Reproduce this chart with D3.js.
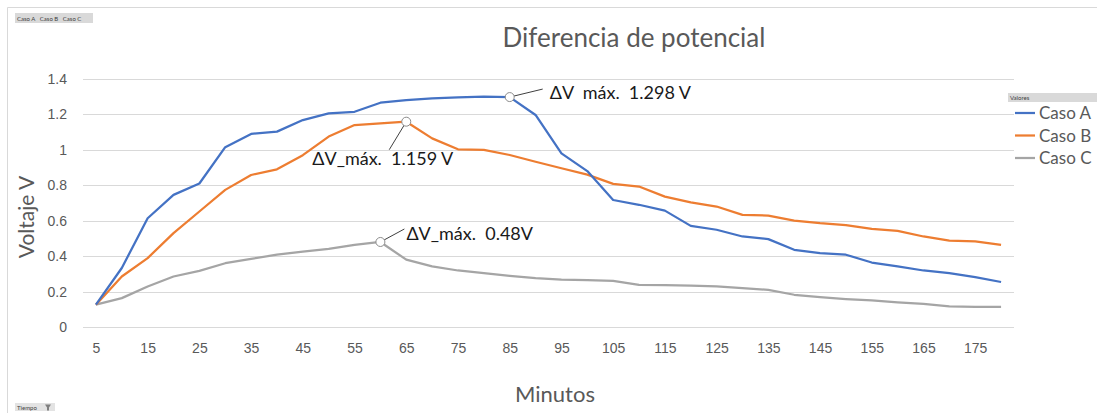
<!DOCTYPE html>
<html>
<head>
<meta charset="utf-8">
<script src="https://cdn.jsdelivr.net/npm/d3@7"></script>
<style>
	body { margin: 0; background: #fff; }
	svg { display: block; font-family: Lato, 'Open Sans', sans-serif; }
	.grid line { stroke: #d9d9d9; stroke-width: 1; }
	.axis text { fill: #595959; font-size: 14px; }
	.axis path, .axis line { display: none; }
	.annot text { fill: #1a1a1a; font-size: 18px; white-space: pre; }
</style>
</head>
<body>
<div id="viz"></div>
<script>
const minutes = [5, 10, 15, 20, 25, 30, 35, 40, 45, 50, 55, 60, 65, 70, 75, 80, 85, 90, 95, 100,
	105, 110, 115, 120, 125, 130, 135, 140, 145, 150, 155, 160, 165, 170, 175, 180];

const casoA = [0.126, 0.333, 0.614, 0.746, 0.81, 1.015, 1.09, 1.103, 1.168, 1.206, 1.215, 1.266,
	1.281, 1.29, 1.296, 1.3, 1.298, 1.197, 0.98, 0.88, 0.717, 0.69, 0.657, 0.571, 0.549, 0.511,
	0.496, 0.436, 0.417, 0.408, 0.364, 0.342, 0.319, 0.304, 0.282, 0.254];
const casoB = [0.126, 0.285, 0.389, 0.53, 0.652, 0.774, 0.858, 0.89, 0.97, 1.075, 1.14, 1.15,
	1.159, 1.065, 1.003, 1.0, 0.971, 0.933, 0.896, 0.86, 0.808, 0.793, 0.736, 0.703, 0.68, 0.633,
	0.629, 0.601, 0.586, 0.575, 0.554, 0.543, 0.511, 0.488, 0.483, 0.464];
const casoC = [0.126, 0.163, 0.229, 0.285, 0.317, 0.36, 0.385, 0.408, 0.426, 0.441, 0.464, 0.48,
	0.38, 0.342, 0.319, 0.304, 0.289, 0.276, 0.267, 0.264, 0.261, 0.238, 0.237, 0.233, 0.229, 0.22,
	0.21, 0.182, 0.169, 0.158, 0.15, 0.139, 0.13, 0.116, 0.113, 0.113];

const seriesNames = ['Caso A', 'Caso B', 'Caso C'];
const seriesColors = ['#4472c4', '#ed7d31', '#a5a5a5'];
const yTicks = [0, 0.2, 0.4, 0.6, 0.8, 1, 1.2, 1.4];
const xTickLabels = minutes.filter((m, i) => i % 2 === 0);

// max markers: series index, minute, label
const maxNotes = [
	{ s: 0, m: 85, label: 'ΔV  máx.  1.298 V' },
	{ s: 1, m: 65, label: 'ΔV_máx.  1.159 V' },
	{ s: 2, m: 60, label: 'ΔV_máx.  0.48V' }
];

const W = 1097, H = 413;
const PLOT = { left: 83, right: 1014, top: 79, bottom: 327 };

const svg = d3.select('#viz').append('svg')
	.attr('width', W)
	.attr('height', H);

// chart frame (pivot chart object edges)
svg.append('path')
	.attr('d', 'M7.5,' + H + 'V7.5H' + W)
	.attr('fill', 'none')
	.attr('stroke', '#d9d9d9');

const xScale = d3.scalePoint()
	.domain(minutes)
	.range([PLOT.left, PLOT.right])
	.padding(0.5);

const yScale = d3.scaleLinear()
	.domain([0, 1.4])
	.range([PLOT.bottom, PLOT.top]);

svg.append('g')
	.attr('class', 'grid')
	.selectAll('line')
	.data(yTicks)
	.enter()
	.append('line')
	.attr('x1', PLOT.left)
	.attr('x2', PLOT.right)
	.attr('y1', (d) => Math.round(yScale(d)) + 0.5)
	.attr('y2', (d) => Math.round(yScale(d)) + 0.5);

svg.append('g')
	.attr('class', 'x axis')
	.attr('transform', 'translate(0,' + (PLOT.bottom + 13) + ')')
	.call(d3.axisBottom(xScale).tickValues(xTickLabels).tickSize(0).tickPadding(0))
	.selectAll('text')
	.attr('dy', '0.95em');

svg.append('g')
	.attr('class', 'y axis')
	.attr('transform', 'translate(' + (PLOT.left - 16) + ',0)')
	.call(d3.axisLeft(yScale).tickValues(yTicks).tickSize(0).tickPadding(0)
		.tickFormat((d) => String(+d.toFixed(1))));

const series = [casoA, casoB, casoC];

const generateLine = d3.line()
	.x((d, i) => xScale(minutes[i]))
	.y((d) => yScale(d));

svg.append('g')
	.attr('class', 'line-container')
	.selectAll('.line')
	.data(series.slice().reverse())
	.enter()
	.append('path')
	.attr('class', 'line')
	.attr('fill', 'none')
	.attr('stroke', (d, i) => seriesColors[2 - i])
	.attr('stroke-width', 2.25)
	.attr('stroke-linejoin', 'round')
	.attr('d', generateLine);

// annotation placement relative to the marker
const noteOffsets = [
	{ lx: 33, ly: -8, tx: 40, ty: 2, anchor: 'start' },
	{ lx: -17, ly: 28, tx: -94, ty: 43, anchor: 'start' },
	{ lx: 24, ly: -13, tx: 26, ty: -2, anchor: 'start' }
];

const annot = svg.append('g').attr('class', 'annot');
maxNotes.forEach((n, k) => {
	const i = minutes.indexOf(n.m);
	const cx = xScale(n.m), cy = yScale(series[n.s][i]);
	const o = noteOffsets[k];
	annot.append('line')
		.attr('x1', cx).attr('y1', cy)
		.attr('x2', cx + o.lx).attr('y2', cy + o.ly)
		.attr('stroke', '#404040')
		.attr('stroke-width', 1);
	annot.append('circle')
		.attr('cx', cx).attr('cy', cy)
		.attr('r', 4.5)
		.attr('fill', '#fff')
		.attr('stroke', '#8c8c8c')
		.attr('stroke-width', 1);
	annot.append('text')
		.attr('x', cx + o.tx)
		.attr('y', cy + o.ty)
		.attr('text-anchor', o.anchor)
		.text(n.label);
});

// title + axis titles
svg.append('text')
	.attr('x', 634)
	.attr('y', 47)
	.attr('text-anchor', 'middle')
	.attr('fill', '#595959')
	.attr('font-size', 26)
	.text('Diferencia de potencial');

svg.append('text')
	.attr('transform', 'translate(34,217) rotate(-90)')
	.attr('text-anchor', 'middle')
	.attr('fill', '#595959')
	.attr('font-size', 21)
	.text('Voltaje V');

svg.append('text')
	.attr('x', 555)
	.attr('y', 402)
	.attr('text-anchor', 'middle')
	.attr('fill', '#595959')
	.attr('font-size', 22)
	.text('Minutos');

// legend
const legend = svg.append('g').attr('class', 'legend');
legend.append('rect')
	.attr('x', 1008).attr('y', 93)
	.attr('width', 89).attr('height', 9)
	.attr('fill', '#d9d9d9');
legend.append('text')
	.attr('x', 1010).attr('y', 100)
	.attr('font-size', 6)
	.attr('fill', '#404040')
	.text('Valores');

seriesNames.forEach((name, i) => {
	const y = 113 + i * 22.5;
	legend.append('line')
		.attr('x1', 1015).attr('x2', 1035)
		.attr('y1', y).attr('y2', y)
		.attr('stroke', seriesColors[i])
		.attr('stroke-width', 2.25);
	legend.append('text')
		.attr('x', 1039).attr('y', y + 6)
		.attr('font-size', 17)
		.attr('fill', '#595959')
		.text(name);
});

// pivot field buttons
const fieldBtn = svg.append('g');
fieldBtn.append('rect')
	.attr('x', 15).attr('y', 13)
	.attr('width', 78).attr('height', 10)
	.attr('fill', '#d9d9d9');
fieldBtn.append('text')
	.attr('x', 17).attr('y', 20.5)
	.attr('font-size', 6)
	.attr('fill', '#404040')
	.attr('xml:space', 'preserve')
	.text('Caso A   Caso B   Caso C');

fieldBtn.append('rect')
	.attr('x', 15).attr('y', 403)
	.attr('width', 40).attr('height', 8)
	.attr('fill', '#e3e3e3');
fieldBtn.append('text')
	.attr('x', 17).attr('y', 409.5)
	.attr('font-size', 6)
	.attr('fill', '#404040')
	.text('Tiempo');
fieldBtn.append('path')
	.attr('d', 'M45,404.5h6l-2,3v3h-2v-3z')
	.attr('fill', '#7f7f7f');
</script>
</body>
</html>
